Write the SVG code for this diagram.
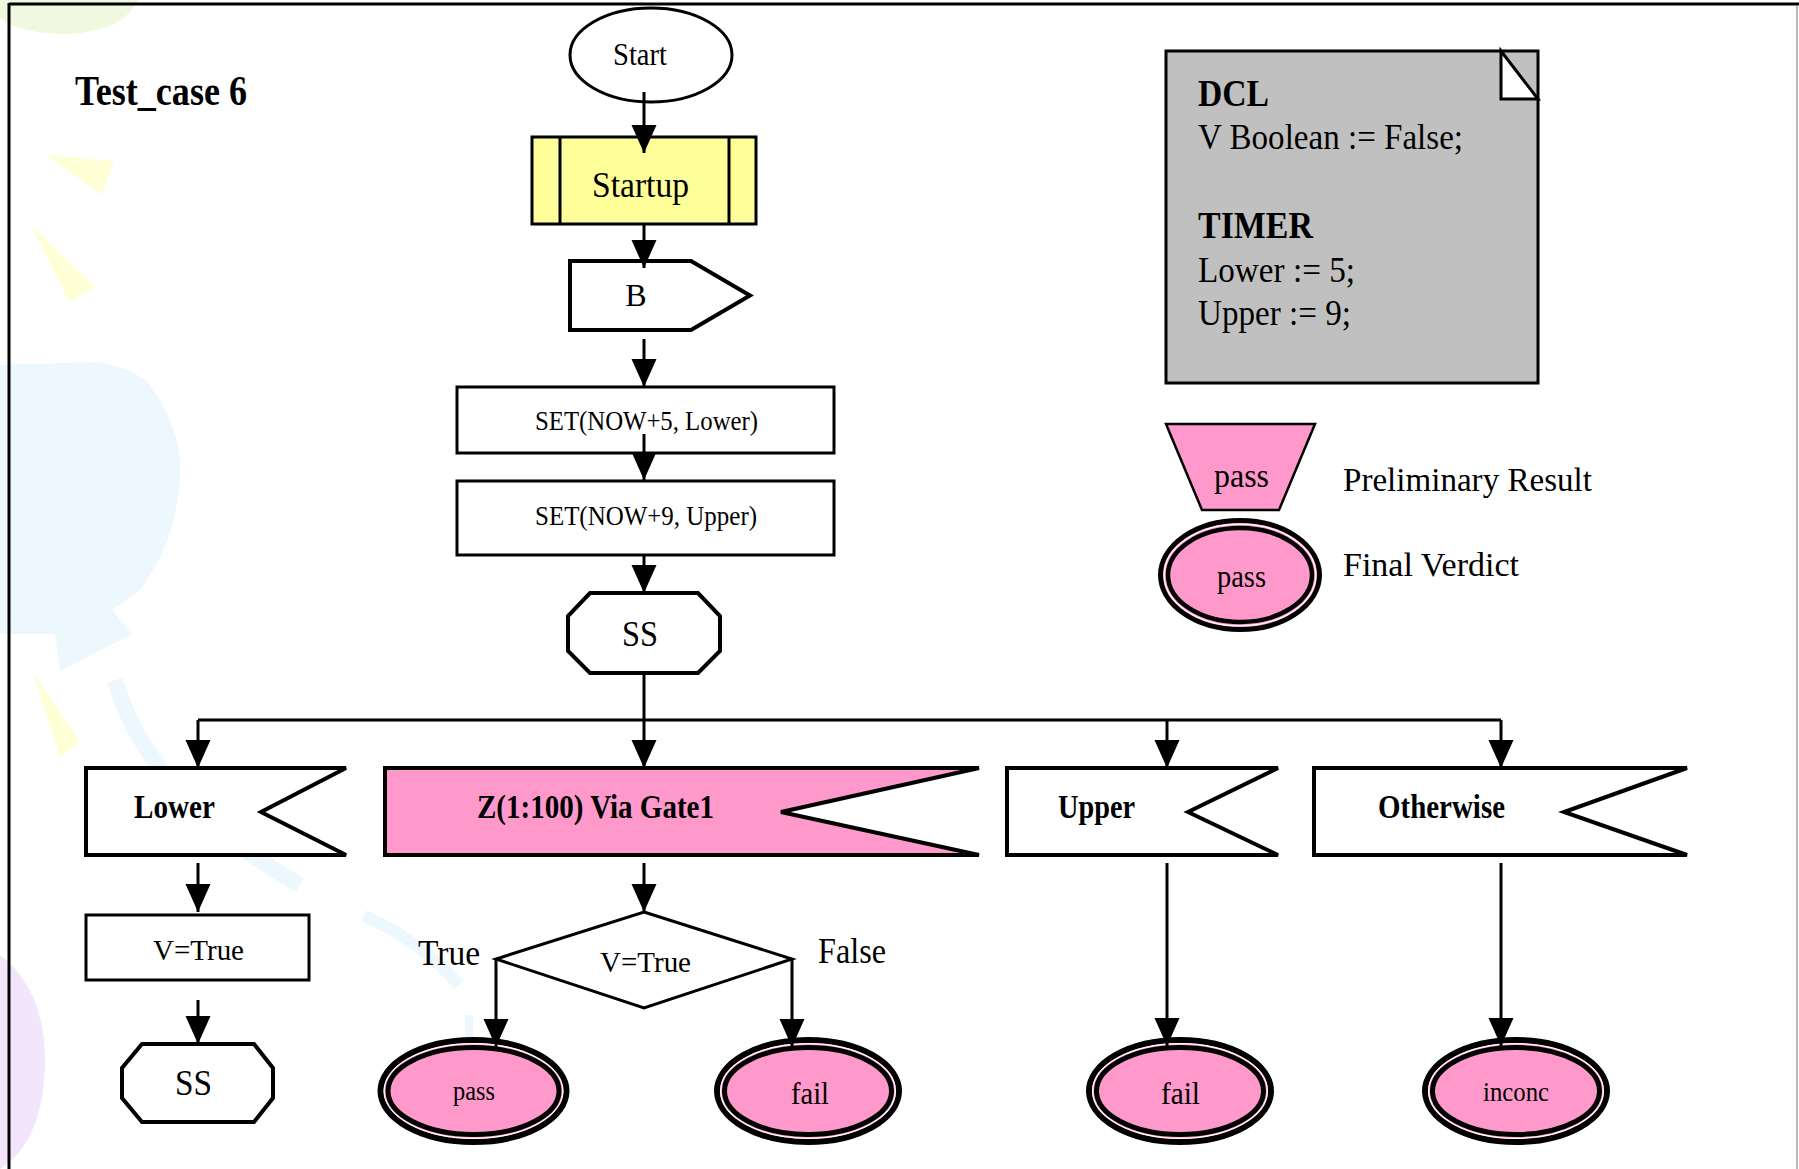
<svg xmlns="http://www.w3.org/2000/svg" width="1799" height="1169" viewBox="0 0 1799 1169">
  <style>
    text { font-family: "Liberation Serif", "Times New Roman", serif; fill: #000; }
    .b { font-weight: bold; }
    .shape { stroke: #000; stroke-width: 3; fill: #fff; }
    .thick { stroke: #000; stroke-width: 4; fill: #fff; stroke-linejoin: miter; }
    .pink { fill: #FF99CC; }
    .conn { stroke: #000; stroke-width: 3; fill: none; }
    .arr { marker-end: url(#head); }
    .ring-o { fill: #FF99CC; stroke: #000; stroke-width: 6; }
    .ring-w { fill: none; stroke: #fff; stroke-width: 1.2; }
    .ring-i { fill: #FF99CC; stroke: #000; stroke-width: 5; }
    .deco-y { fill: #FFFFD6; }
    .deco-b { fill: #EDF7FE; }
  </style>
  <defs>
    <marker id="head" markerUnits="userSpaceOnUse" markerWidth="30" markerHeight="26" refX="28" refY="12.5" orient="auto">
      <path d="M0,0 L28,12.5 L0,25 Z" fill="#000"/>
    </marker>
  </defs>

  <rect width="1799" height="1169" fill="#fff"/>

  <!-- faint slide background ornaments -->
  <g id="background">
    <path d="M0,0 L138,0 Q125,30 70,34 Q20,34 0,18 Z" fill="#F0F8E0"/>
    <polygon class="deco-y" points="46,155 114,161 102,195"/>
    <polygon class="deco-y" points="32,226 95,287 69,302"/>
    <polygon class="deco-y" points="32,671 80,742 60,757"/>
    <path class="deco-b" d="M0,365 L95,362 Q135,368 150,385 Q182,430 180,472 Q178,540 140,590 L112,610 L132,634 L60,671 L55,634 L0,634 Z"/>
    <path d="M115,680 Q150,800 300,885" fill="none" stroke="#EDF7FE" stroke-width="16"/>
    <path d="M364,916 Q420,940 459,985" fill="none" stroke="#EDF7FE" stroke-width="12"/>
    <path d="M469,1015 L469,1042" fill="none" stroke="#EDF7FE" stroke-width="8"/>
    <path d="M0,955 Q45,990 45,1060 Q45,1140 0,1169 Z" fill="#F3E6FC"/>
  </g>

  <!-- page frame -->
  <g id="frame" fill="none">
    <line x1="9" y1="4" x2="1799" y2="4" stroke="#000" stroke-width="3"/>
    <line x1="9" y1="3" x2="9" y2="1169" stroke="#000" stroke-width="3"/>
    <line x1="1797" y1="6" x2="1797" y2="1169" stroke="#B8B8B8" stroke-width="2"/>
  </g>

  <g id="title">
    <text class="b" x="75" y="105" font-size="42" textLength="172" lengthAdjust="spacingAndGlyphs">Test_case 6</text>
  </g>

  <g id="start">
    <ellipse class="shape" cx="651" cy="55" rx="81" ry="47"/>
    <text x="640" y="65" font-size="32" text-anchor="middle" textLength="54" lengthAdjust="spacingAndGlyphs">Start</text>
  </g>

  <g id="startup">
    <rect x="532" y="137" width="224" height="87" fill="#FFFF99" stroke="#000" stroke-width="3"/>
    <line x1="560" y1="137" x2="560" y2="224" stroke="#000" stroke-width="3"/>
    <line x1="729" y1="137" x2="729" y2="224" stroke="#000" stroke-width="3"/>
    <text x="640.5" y="197" font-size="36" text-anchor="middle" textLength="97" lengthAdjust="spacingAndGlyphs">Startup</text>
  </g>

  <g id="b">
    <polygon class="thick" points="570,261 691,261 750,295.5 691,330 570,330"/>
    <text x="636" y="306" font-size="32" text-anchor="middle">B</text>
  </g>

  <g id="set-lower">
    <rect class="shape" x="457" y="387" width="377" height="66"/>
    <text x="646.5" y="430" font-size="28" text-anchor="middle" textLength="223" lengthAdjust="spacingAndGlyphs">SET(NOW+5, Lower)</text>
  </g>

  <g id="set-upper">
    <rect class="shape" x="457" y="481" width="377" height="74"/>
    <text x="646" y="525" font-size="28" text-anchor="middle" textLength="222" lengthAdjust="spacingAndGlyphs">SET(NOW+9, Upper)</text>
  </g>

  <g id="ss-main">
    <polygon class="thick" points="590,593 698,593 720,616 720,651 698,673 590,673 568,651 568,616"/>
    <text x="640" y="646" font-size="36" text-anchor="middle" textLength="36" lengthAdjust="spacingAndGlyphs">SS</text>
  </g>

  <g id="recv-lower">
    <polygon class="thick" points="86,768 346,768 261,812 346,855 86,855"/>
    <text class="b" x="134" y="818" font-size="33" textLength="81" lengthAdjust="spacingAndGlyphs">Lower</text>
  </g>

  <g id="recv-z">
    <polygon class="thick pink" points="385,768 979,768 781,812 979,855 385,855"/>
    <text class="b" x="477" y="818" font-size="33" textLength="237" lengthAdjust="spacingAndGlyphs">Z(1:100) Via Gate1</text>
  </g>

  <g id="recv-upper">
    <polygon class="thick" points="1007,768 1278,768 1188,812 1278,855 1007,855"/>
    <text class="b" x="1058" y="818" font-size="33" textLength="77" lengthAdjust="spacingAndGlyphs">Upper</text>
  </g>

  <g id="recv-otherwise">
    <polygon class="thick" points="1314,768 1687,768 1564,812 1687,855 1314,855"/>
    <text class="b" x="1378" y="818" font-size="33" textLength="127" lengthAdjust="spacingAndGlyphs">Otherwise</text>
  </g>

  <g id="assign-v">
    <rect class="shape" x="86" y="915" width="223" height="65"/>
    <text x="198.5" y="960" font-size="30" text-anchor="middle" textLength="91" lengthAdjust="spacingAndGlyphs">V=True</text>
  </g>

  <g id="ss-lower">
    <polygon class="thick" points="142,1044 254,1044 273,1068 273,1098 254,1122 142,1122 122,1098 122,1068"/>
    <text x="193.5" y="1095" font-size="36" text-anchor="middle" textLength="37" lengthAdjust="spacingAndGlyphs">SS</text>
  </g>

  <g id="decision">
    <polygon class="shape" points="644,912 792,959 644,1008 496,959"/>
    <text x="645.5" y="972" font-size="30" text-anchor="middle" textLength="91" lengthAdjust="spacingAndGlyphs">V=True</text>
    <text x="418" y="965" font-size="36" textLength="62" lengthAdjust="spacingAndGlyphs">True</text>
    <text x="818" y="963" font-size="36" textLength="68" lengthAdjust="spacingAndGlyphs">False</text>
  </g>

  <g id="verdict-pass">
    <ellipse class="ring-o" cx="473.5" cy="1091" rx="93" ry="51"/>
    <ellipse class="ring-w" cx="473.5" cy="1091" rx="89.4" ry="47.4"/>
    <ellipse class="ring-i" cx="473.5" cy="1091" rx="85.5" ry="43.5"/>
    <text x="474" y="1100" font-size="28" text-anchor="middle" textLength="42" lengthAdjust="spacingAndGlyphs">pass</text>
  </g>

  <g id="verdict-fail-1">
    <ellipse class="ring-o" cx="808" cy="1091" rx="91" ry="51"/>
    <ellipse class="ring-w" cx="808" cy="1091" rx="87.4" ry="47.4"/>
    <ellipse class="ring-i" cx="808" cy="1091" rx="83.5" ry="43.5"/>
    <text x="810" y="1104" font-size="32" text-anchor="middle" textLength="38" lengthAdjust="spacingAndGlyphs">fail</text>
  </g>

  <g id="verdict-fail-2">
    <ellipse class="ring-o" cx="1180" cy="1091" rx="91" ry="51"/>
    <ellipse class="ring-w" cx="1180" cy="1091" rx="87.4" ry="47.4"/>
    <ellipse class="ring-i" cx="1180" cy="1091" rx="83.5" ry="43.5"/>
    <text x="1180.5" y="1104" font-size="32" text-anchor="middle" textLength="39" lengthAdjust="spacingAndGlyphs">fail</text>
  </g>

  <g id="verdict-inconc">
    <ellipse class="ring-o" cx="1516" cy="1091" rx="91" ry="51"/>
    <ellipse class="ring-w" cx="1516" cy="1091" rx="87.4" ry="47.4"/>
    <ellipse class="ring-i" cx="1516" cy="1091" rx="83.5" ry="43.5"/>
    <text x="1516" y="1101" font-size="28" text-anchor="middle" textLength="66" lengthAdjust="spacingAndGlyphs">inconc</text>
  </g>

  <!-- declarations note with folded corner -->
  <g id="dcl">
    <rect x="1166" y="51" width="372" height="332" fill="#C0C0C0" stroke="#000" stroke-width="3"/>
    <polygon points="1501,51 1501,99 1538,99" fill="#fff" stroke="#000" stroke-width="3" stroke-linejoin="miter"/>
    <text class="b" x="1198" y="106" font-size="37" textLength="71" lengthAdjust="spacingAndGlyphs">DCL</text>
    <text x="1198" y="149" font-size="36" textLength="265" lengthAdjust="spacingAndGlyphs">V Boolean := False;</text>
    <text class="b" x="1198" y="238" font-size="37" textLength="115" lengthAdjust="spacingAndGlyphs">TIMER</text>
    <text x="1198" y="282" font-size="36" textLength="157" lengthAdjust="spacingAndGlyphs">Lower := 5;</text>
    <text x="1198" y="325" font-size="36" textLength="153" lengthAdjust="spacingAndGlyphs">Upper := 9;</text>
  </g>

  <!-- legend -->
  <g id="legend-preliminary">
    <polygon points="1166,424 1315,424 1279,510 1202,510" fill="#FF99CC" stroke="#000" stroke-width="2.5"/>
    <text x="1241.5" y="487" font-size="34" text-anchor="middle" textLength="55" lengthAdjust="spacingAndGlyphs">pass</text>
    <text x="1343" y="491" font-size="34" textLength="249" lengthAdjust="spacingAndGlyphs">Preliminary Result</text>
  </g>

  <g id="legend-final">
    <ellipse cx="1240" cy="575" rx="79.5" ry="54.5" fill="#FF99CC" stroke="#000" stroke-width="5"/>
    <ellipse class="ring-w" cx="1240" cy="575" rx="75.8" ry="50.8"/>
    <ellipse cx="1240" cy="575" rx="72" ry="47" fill="#FF99CC" stroke="#000" stroke-width="4.5"/>
    <text x="1241.5" y="587" font-size="32" text-anchor="middle" textLength="49" lengthAdjust="spacingAndGlyphs">pass</text>
    <text x="1343" y="576" font-size="34" textLength="176" lengthAdjust="spacingAndGlyphs">Final Verdict</text>
  </g>

  <!-- flow connectors -->
  <g id="connectors" class="conn">
    <path class="arr" d="M644,92 L644,153"/>
    <path class="arr" d="M644,224 L644,268"/>
    <path class="arr" d="M644,339 L644,387"/>
    <path class="arr" d="M644,434 L644,480"/>
    <path class="arr" d="M644,555 L644,593"/>
    <path class="arr" d="M644,673 L644,768"/>
    <path d="M198,720 L1501,720"/>
    <path class="arr" d="M198,720 L198,768"/>
    <path class="arr" d="M1167,720 L1167,768"/>
    <path class="arr" d="M1501,720 L1501,768"/>
    <path class="arr" d="M198,863 L198,912"/>
    <path class="arr" d="M198,1000 L198,1044"/>
    <path class="arr" d="M644,863 L644,912"/>
    <path class="arr" d="M496,959 L496,1047"/>
    <path class="arr" d="M792,959 L792,1047"/>
    <path class="arr" d="M1167,863 L1167,1046"/>
    <path class="arr" d="M1501,863 L1501,1046"/>
  </g>
</svg>
